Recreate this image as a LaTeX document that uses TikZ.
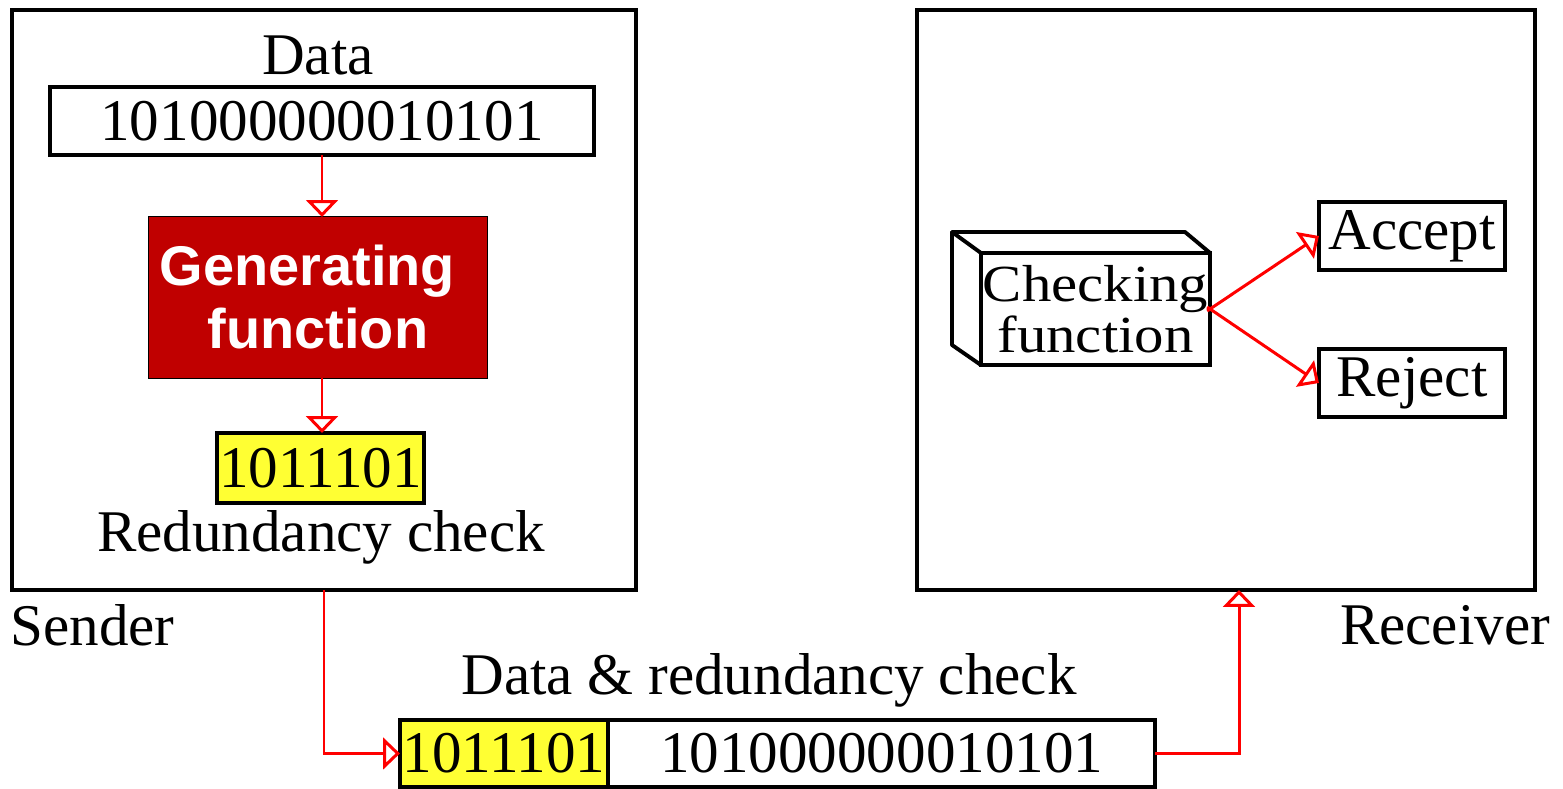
\documentclass[tikz,border=0pt]{standalone}
\usepackage{fontspec}
\setmainfont{Liberation Serif}
\newfontfamily\genfont{Liberation Sans}
\newfontfamily\widefont{Liberation Serif}[FakeStretch=1.13]
\usetikzlibrary{arrows.meta,positioning}

\definecolor{genred}{RGB}{192,0,0}
\definecolor{crcyellow}{RGB}{255,255,51}
\definecolor{linkred}{RGB}{255,0,0}

\tikzset{
  txt/.style={font=\fontsize{16.8}{20}\selectfont},
  site/.style={draw, line width=1.2pt, inner sep=0pt, outer sep=0pt},
  bits/.style={draw, line width=1.1pt, inner sep=0pt, outer sep=0pt, txt},
  link/.style={draw=linkred, line width=0.85pt,
    -{Triangle[open, length=4.8pt, width=9pt]}},
}

\begin{document}
\begin{tikzpicture}[x=0.01cm, y=-0.01cm]
    \useasboundingbox (0,0) rectangle (1563,789);

    % sender and receiver
    \node [site, minimum width=6.24cm, minimum height=5.8cm] (sender) at (324,300) {};
    \node [site, minimum width=6.18cm, minimum height=5.8cm] (receiver) at (1226,300) {};
    \node [txt, anchor=west] (sendlbl) at (-2,625) {Sender};
    \node [txt] (recvlbl) at (1445,625) {Receiver};

    % sender side
    \node [txt] (datalbl) at (318,55) {Data};
    \node [bits, minimum width=5.44cm, minimum height=0.68cm] (data) at (322,121) {101000000010101};
    \node [draw, fill=genred, line width=0.3pt, minimum width=3.38cm, minimum height=1.61cm,
           inner sep=0pt, outer sep=0pt, text=white, align=center,
           font=\genfont\bfseries\fontsize{15.9}{17.9}\selectfont] (gen) at (318,297.5)
           {Generating\hspace*{6pt}\\function};
    \node [bits, fill=crcyellow, minimum width=2.07cm, minimum height=0.70cm] (crc) at (320.5,468) {1011101};
    \node [txt] (crclbl) at (321,537) {Redundancy check};

    \draw [link] (data.south) -- (data.south |- gen.north);
    \draw [link] (data.south |- gen.south) -- (data.south |- crc.north);

    % receiver side
    \node [bits, minimum width=2.29cm, minimum height=1.12cm, align=center,
           font=\widefont\fontsize{14.8}{13.6}\selectfont] (check) at (1095.5,309)
          {Checking\\function};
    \draw [line width=1.1pt, line join=round] (check.north west) -- (952,232) -- (1185,232) -- (check.north east);
    \draw [line width=1.1pt, line join=round] (952,232) -- (952,345) -- (check.south west);
    \node [bits, minimum width=1.86cm, minimum height=0.68cm] (accept) at (1412,236) {Accept};
    \node [bits, minimum width=1.86cm, minimum height=0.68cm] (reject) at (1412,383) {Reject};

    \draw [link, shorten <=-1pt] (check.east) -- (accept.west);
    \draw [link, shorten <=-1pt] (check.east) -- (reject.west);

    % transmitted frame
    \node [txt] (pktlbl) at (769,680) {Data \& redundancy check};
    \node [bits, fill=crcyellow, minimum width=2.08cm, minimum height=0.67cm] (pktcrc) at (504,753.5) {1011101};
    \node [bits, minimum width=5.47cm, minimum height=0.67cm, right=0pt of pktcrc] (pktdata) {101000000010101};
    \coordinate (rin) at (1239,590);

    \draw [link] (sender.south) |- (pktcrc.west);
    \draw [link] (pktdata.east) -| (rin);
\end{tikzpicture}
\end{document}
